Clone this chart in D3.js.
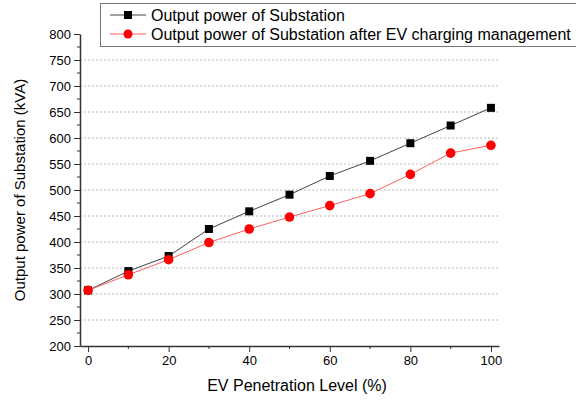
<!DOCTYPE html>
<html>
<head>
<meta charset="utf-8">
<script src="https://cdn.jsdelivr.net/npm/d3@7"></script>
<style>
body { margin: 0; background: #fff; }
text { font-family: "Liberation Sans", Arial, sans-serif; }
</style>
</head>
<body>
<div id="chart"></div>
<script>
// data
var penetration = [0, 10, 20, 30, 40, 50, 60, 70, 80, 90, 100];
var powerBase = [307, 344, 373, 425, 459, 491, 527, 556, 590, 624, 658];
var powerManaged = [307, 337, 366, 399, 425, 448, 470, 493, 530, 571, 586];
var seriesNames = ["Output power of Substation", "Output power of Substation after EV charging management"];
var xTicks = [0, 20, 40, 60, 80, 100];
var yTicks = [200, 250, 300, 350, 400, 450, 500, 550, 600, 650, 700, 750, 800];

var svgWidth = 576, svgHeight = 400;
var margin = { top: 34, right: 77, bottom: 54, left: 80 };
var width = svgWidth - margin.left - margin.right;
var height = svgHeight - margin.top - margin.bottom;

var svg = d3.select("#chart").append("svg")
    .attr("width", svgWidth)
    .attr("height", svgHeight);

var g = svg.append("g")
    .attr("transform", `translate(${margin.left}, ${margin.top})`);

var x = d3.scaleLinear().domain([-2, 102]).range([0, width]);
var y = d3.scaleLinear().domain([200, 800]).range([height, 0]);

// grid
g.selectAll(".grid")
    .data(yTicks.filter(d => d > 200 && d < 800))
    .enter().append("line")
    .attr("x1", 0).attr("x2", width)
    .attr("y1", d => y(d)).attr("y2", d => y(d))
    .attr("stroke", "#bbb")
    .attr("stroke-dasharray", "2,2");

// axes
var xAxis = g.append("g")
    .attr("transform", `translate(0, ${height})`)
    .call(d3.axisBottom(x).tickValues(xTicks).tickSize(6).tickSizeOuter(0).tickPadding(4));
xAxis.append("g").selectAll("line")
    .data([10, 30, 50, 70, 90]).enter().append("line")
    .attr("x1", d => x(d)).attr("x2", d => x(d))
    .attr("y1", 0).attr("y2", 3).attr("stroke", "#333");

var yAxis = g.append("g")
    .call(d3.axisLeft(y).tickValues(yTicks).tickSize(6).tickSizeOuter(0).tickPadding(3));
yAxis.append("g").selectAll("line")
    .data(d3.range(225, 800, 50)).enter().append("line")
    .attr("y1", d => y(d)).attr("y2", d => y(d))
    .attr("x1", 0).attr("x2", -3).attr("stroke", "#333");

svg.selectAll(".domain").attr("stroke", "#333").attr("stroke-width", 1.5);
svg.selectAll(".tick line").attr("stroke", "#333");
svg.selectAll(".tick text").attr("font-size", "13px").attr("fill", "#000")
    .attr("font-family", "Liberation Sans, Arial, sans-serif");

// lines
var line = d3.line()
    .x((d, i) => x(penetration[i]))
    .y(d => y(d));

g.append("path").datum(powerBase)
    .attr("fill", "none").attr("stroke", "#444").attr("stroke-width", 1)
    .attr("d", line);
g.append("path").datum(powerManaged)
    .attr("fill", "none").attr("stroke", "#ff6060").attr("stroke-width", 1)
    .attr("d", line);

g.selectAll(".sq").data(powerBase).enter().append("rect")
    .attr("x", (d, i) => x(penetration[i]) - 4)
    .attr("y", d => y(d) - 4)
    .attr("width", 8).attr("height", 8)
    .attr("fill", "#000");

g.selectAll(".dot").data(powerManaged).enter().append("circle")
    .attr("cx", (d, i) => x(penetration[i]))
    .attr("cy", d => y(d))
    .attr("r", 4.8)
    .attr("fill", "#ff0000");

// axis titles
svg.append("text")
    .attr("transform", `translate(25, ${margin.top + height / 2}) rotate(-90)`)
    .attr("text-anchor", "middle")
    .attr("font-size", "15px")
    .text("Output power of Substation (kVA)");

svg.append("text")
    .attr("x", 297)
    .attr("y", 391)
    .attr("text-anchor", "middle")
    .attr("font-size", "16px")
    .text("EV Penetration Level (%)");

// legend
var legend = svg.append("g");
legend.append("rect")
    .attr("x", 100.5).attr("y", 3.5)
    .attr("width", 480).attr("height", 43)
    .attr("fill", "#fff").attr("stroke", "#777");

var legendColors = ["#444", "#ff6060"];
seriesNames.forEach(function (name, i) {
    var ly = 15 + i * 19;
    legend.append("line")
        .attr("x1", 110).attr("x2", 146)
        .attr("y1", ly).attr("y2", ly)
        .attr("stroke", legendColors[i]);
    if (i === 0) {
        legend.append("rect").attr("x", 124).attr("y", ly - 4)
            .attr("width", 8).attr("height", 8).attr("fill", "#000");
    } else {
        legend.append("circle").attr("cx", 128).attr("cy", ly)
            .attr("r", 4.5).attr("fill", "#ff0000");
    }
    legend.append("text")
        .attr("x", 151).attr("y", ly + 6)
        .attr("font-size", "16px")
        .text(name);
});
</script>
</body>
</html>
